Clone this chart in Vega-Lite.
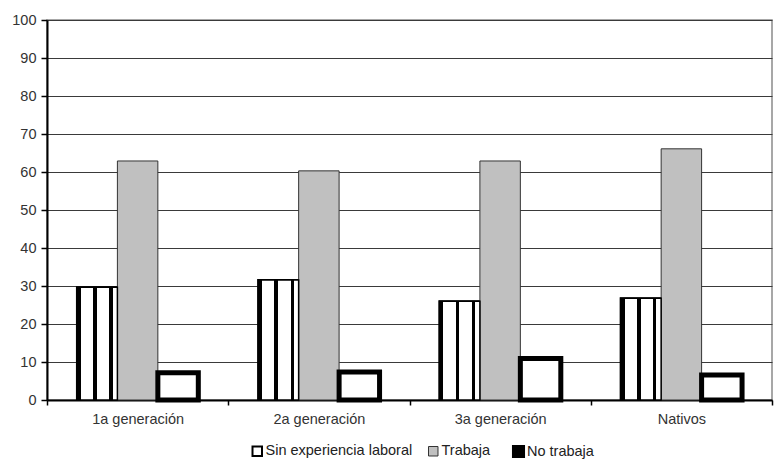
{
  "$schema": "https://vega.github.io/schema/vega-lite/v6.json",
  "width": 725,
  "height": 380,
  "autosize": {"type": "none"},
  "padding": {"left": 47, "top": 20, "right": 7, "bottom": 69},
  "background": "white",
  "config": {
    "font": "Liberation Sans",
    "view": {"stroke": "#8a8a8a", "strokeWidth": 1.5},
    "axis": {"labelFont": "Liberation Sans", "labelFontSize": 14.5, "labelColor": "#333333", "domainColor": "black", "tickColor": "black", "domainWidth": 2, "tickWidth": 1.5}
  },
  "data": {
    "values": [
      {"grupo": "1a generación", "serie": "Sin experiencia laboral", "valor": 29.7},
      {"grupo": "1a generación", "serie": "Trabaja", "valor": 62.9},
      {"grupo": "1a generación", "serie": "No trabaja", "valor": 7.2},
      {"grupo": "2a generación", "serie": "Sin experiencia laboral", "valor": 31.6},
      {"grupo": "2a generación", "serie": "Trabaja", "valor": 60.3},
      {"grupo": "2a generación", "serie": "No trabaja", "valor": 7.4},
      {"grupo": "3a generación", "serie": "Sin experiencia laboral", "valor": 26.0},
      {"grupo": "3a generación", "serie": "Trabaja", "valor": 62.9},
      {"grupo": "3a generación", "serie": "No trabaja", "valor": 10.9},
      {"grupo": "Nativos", "serie": "Sin experiencia laboral", "valor": 26.8},
      {"grupo": "Nativos", "serie": "Trabaja", "valor": 66.1},
      {"grupo": "Nativos", "serie": "No trabaja", "valor": 6.6}
    ]
  },
  "encoding": {
    "x": {
      "field": "grupo", "type": "nominal", "sort": null, "title": null,
      "scale": {"paddingInner": 0, "paddingOuter": 0},
      "axis": {"labelAngle": 0, "tickBand": "extent", "tickSize": 5, "labelPadding": 7, "grid": false}
    },
    "xOffset": {
      "field": "serie", "type": "nominal",
      "scale": {"domain": ["Sin experiencia laboral", "Trabaja", "No trabaja"], "paddingInner": 0, "paddingOuter": 0.74}
    },
    "y": {
      "field": "valor", "type": "quantitative", "title": null,
      "scale": {"domain": [0, 100], "nice": false},
      "axis": {"values": [0, 10, 20, 30, 40, 50, 60, 70, 80, 90, 100], "tickSize": 6, "labelPadding": 5, "grid": true, "gridColor": "#3a3a3a", "gridWidth": 1.2}
    }
  },
  "layer": [
    {
      "mark": {"type": "bar"},
      "encoding": {
        "fill": {
          "field": "serie", "type": "nominal",
          "scale": {"domain": ["Sin experiencia laboral", "Trabaja", "No trabaja"], "range": ["white", "#c0c0c0", "white"]},
          "legend": {
            "title": null, "orient": "none", "legendX": 203, "legendY": 424, "direction": "horizontal",
            "gridAlign": "none",
            "labelFontSize": 14.5, "labelColor": "#222222", "labelFont": "Liberation Sans",
            "symbolType": "square", "symbolSize": 90, "columnPadding": 13, "labelOffset": 1,
            "encode": {
              "symbols": {
                "update": {
                  "strokeWidth": {"value": 1.8},
                  "shape": {"signal": "datum.value === 'No trabaja' ? 'M-0.85,-0.85H0.85V0.85H-0.85Z M-0.3,-0.3V0.3H0.3V-0.3Z' : 'square'"},
                  "fill": {"signal": "datum.value === 'No trabaja' ? 'black' : (datum.value === 'Trabaja' ? '#c0c0c0' : 'white')"},
                  "stroke": {"signal": "datum.value === 'Trabaja' ? '#555555' : 'black'"}
                }
              }
            }
          }
        },
        "stroke": {
          "field": "serie", "type": "nominal",
          "scale": {"domain": ["Sin experiencia laboral", "Trabaja", "No trabaja"], "range": ["black", "#333333", "black"]}
        },
        "strokeWidth": {
          "field": "serie", "type": "nominal",
          "scale": {"type": "ordinal", "domain": ["Sin experiencia laboral", "Trabaja", "No trabaja"], "range": [2, 1, 5]},
          "legend": null
        }
      }
    },
    {
      "transform": [{"filter": "datum.serie === 'Sin experiencia laboral'"}],
      "mark": {
        "type": "bar",
        "stroke": "black",
        "strokeWidth": 1.5,
        "fill": {
          "gradient": "linear", "x1": 0, "y1": 0, "x2": 1, "y2": 0,
          "stops": [
            {"offset": 0, "color": "black"},
            {"offset": 0.1, "color": "black"},
            {"offset": 0.1, "color": "white"},
            {"offset": 0.4, "color": "white"},
            {"offset": 0.4, "color": "black"},
            {"offset": 0.49, "color": "black"},
            {"offset": 0.49, "color": "white"},
            {"offset": 0.8, "color": "white"},
            {"offset": 0.8, "color": "black"},
            {"offset": 0.88, "color": "black"},
            {"offset": 0.88, "color": "white"},
            {"offset": 1, "color": "white"}
          ]
        }
      }
    }
  ]
}
